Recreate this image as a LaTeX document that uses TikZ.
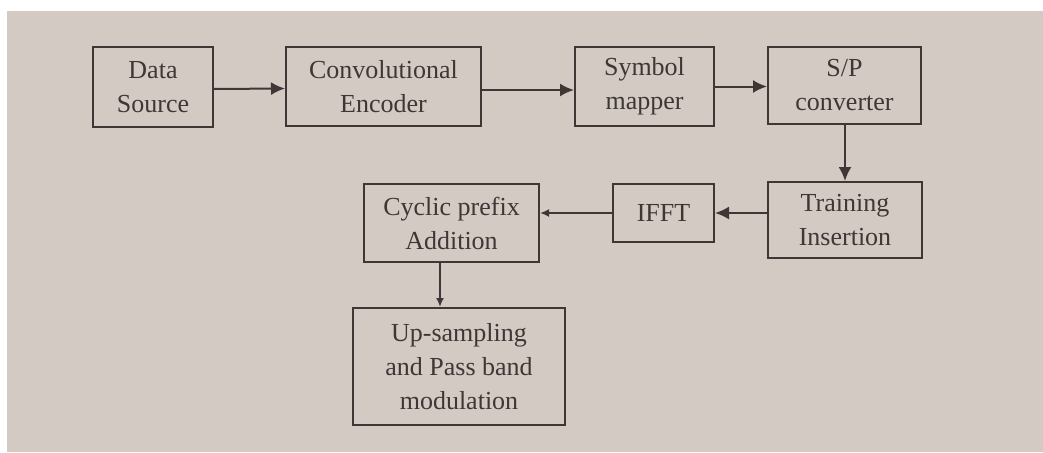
\documentclass[tikz,border=0pt]{standalone}
\usepackage{fontspec}
\setmainfont{Liberation Serif}
\usetikzlibrary{arrows.meta}
\definecolor{bgc}{RGB}{211,202,196}
\definecolor{ink}{RGB}{62,55,53}
\begin{document}
\begin{tikzpicture}[x=1pt,y=-1pt,
  blk/.style={draw=ink, line width=2pt, fill=bgc, inner sep=0pt, align=center,
    text=ink, font=\fontsize{26}{34}\selectfont},
  conn/.style={draw=ink, line width=2pt, -{Latex[length=14pt,width=13pt]}},
  smallconn/.style={draw=ink, line width=2pt, -{Latex[length=9pt,width=8pt]}}]
\fill[white] (0,0) rectangle (1043,452);
\fill[bgc] (7,11) rectangle (1043,452);
\useasboundingbox (0,0) rectangle (1043,452);
\node[blk, minimum width=120pt, minimum height=80pt] (ds) at (153,87) {Data\\Source};
\node[blk, minimum width=195pt, minimum height=79pt] (ce) at (383.5,86.5) {Convolutional\\Encoder};
\node[blk, minimum width=139pt, minimum height=79pt] (sm) at (644.5,86.5) {Symbol\\mapper};
\node[blk, minimum width=153pt, minimum height=76pt] (sp) at (844.5,85.5) {S/P\\converter};
\node[blk, minimum width=154pt, minimum height=76pt] (ti) at (845,220) {Training\\Insertion};
\node[blk, minimum width=101pt, minimum height=58pt] (ifft) at (663.5,213) {IFFT};
\node[blk, minimum width=175pt, minimum height=78pt] (cp) at (451.5,223) {Cyclic prefix\\Addition};
\node[blk, minimum width=212pt, minimum height=117pt] (up) at (459,366.5) {Up-sampling\\and Pass band\\modulation};
\draw[conn] ([yshift=-2pt]ds.east) -- ([yshift=-2pt]ce.west);
\draw[conn] ([yshift=-3.5pt]ce.east) -- ([yshift=-3.5pt]sm.west);
\draw[conn] (sm.east) -- (sm.east -| sp.west);
\draw[conn] (ti.north |- sp.south) -- (ti.north);
\draw[conn] (ti.west |- ifft.east) -- (ifft.east);
\draw[smallconn] (ifft.west) -- (ifft.west -| cp.east);
\draw[smallconn] ([xshift=-11.5pt]cp.south) -- ([xshift=-11.5pt]cp.south |- up.north);
\end{tikzpicture}
\end{document}
